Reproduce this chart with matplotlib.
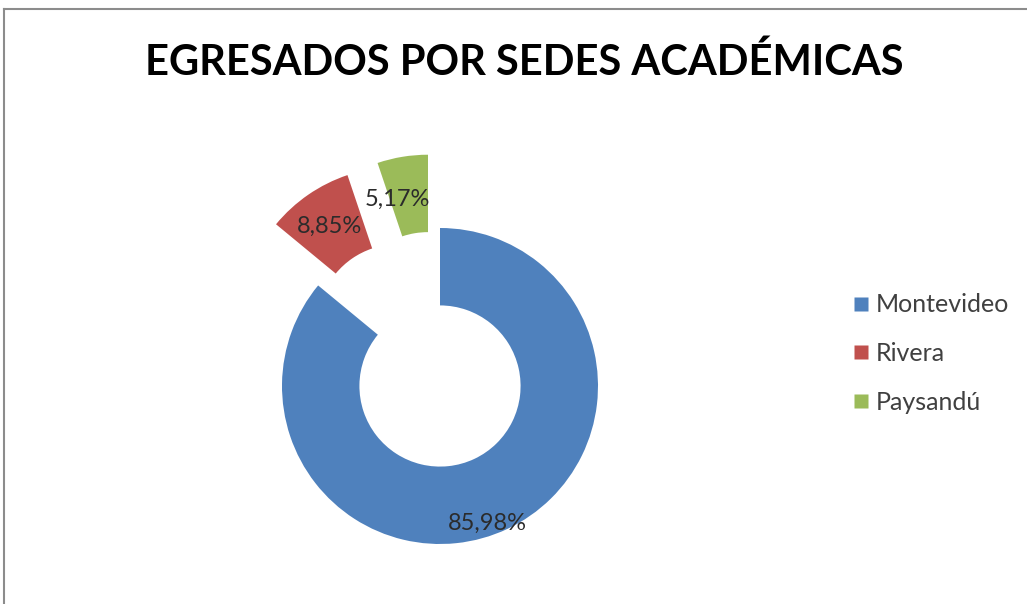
import matplotlib
matplotlib.use('Agg')
import matplotlib.pyplot as plt
from matplotlib.lines import Line2D

# Datos
sedes = ['Montevideo', 'Rivera', 'Paysandú']
porcentajes = [85.98, 8.85, 5.17]
colores = ['#4F81BD', '#C0504D', '#9BBB59']
separacion = [0, 0.47, 0.47]

W, H = 1027, 604
cx, cy, r = 440, 386, 158   # centro y radio en píxeles
fuente = ['Lato', 'DejaVu Sans']

fig = plt.figure(figsize=(W / 100, H / 100), dpi=100)
ax = fig.add_axes([0, 0, 1, 1])

wedges, textos, autotextos = ax.pie(
    porcentajes, colors=colores, explode=separacion, startangle=90,
    counterclock=False, wedgeprops=dict(width=0.49, edgecolor='none'),
    autopct=lambda p: f'{p:.2f}%'.replace('.', ','), pctdistance=0.76,
    textprops=dict(color='#2b2b2b', fontsize=17, family=fuente))

# la etiqueta de Montevideo va más hacia el borde
x, y = autotextos[0].get_position()
autotextos[0].set_position((x * 0.70 / 0.76, y * 0.96 / 0.76))
x, y = autotextos[2].get_position()
autotextos[2].set_position((x - 0.07, y - 0.03))

ax.set_aspect('auto')
ax.set_xlim(-cx / r, (W - cx) / r)
ax.set_ylim(-(H - cy) / r, cy / r)
ax.axis('off')

fig.text(524 / W, 1 - 62 / H, 'EGRESADOS POR SEDES ACADÉMICAS', ha='center', va='center',
         fontsize=30, fontweight='bold', family=fuente)

# leyenda
handles = [Line2D([], [], marker='s', linestyle='none', markersize=10,
                  markerfacecolor=c, markeredgecolor='none') for c in colores]
leg = fig.legend(handles, sedes, loc='upper left', bbox_to_anchor=(826 / W, 1 - 271 / H),
                 frameon=False, handletextpad=0.1, labelspacing=1.02, handlelength=1.0,
                 prop=dict(family=fuente, size=18))
for t in leg.get_texts():
    t.set_color('#404040')

# marco
fig.add_artist(Line2D([4 / W, 4 / W], [0, 1 - 9 / H], transform=fig.transFigure, color='#8c8c8c', lw=1.5))
fig.add_artist(Line2D([4 / W, 1], [1 - 9 / H, 1 - 9 / H], transform=fig.transFigure, color='#8c8c8c', lw=1.5))

plt.savefig('out.png', dpi=100)
